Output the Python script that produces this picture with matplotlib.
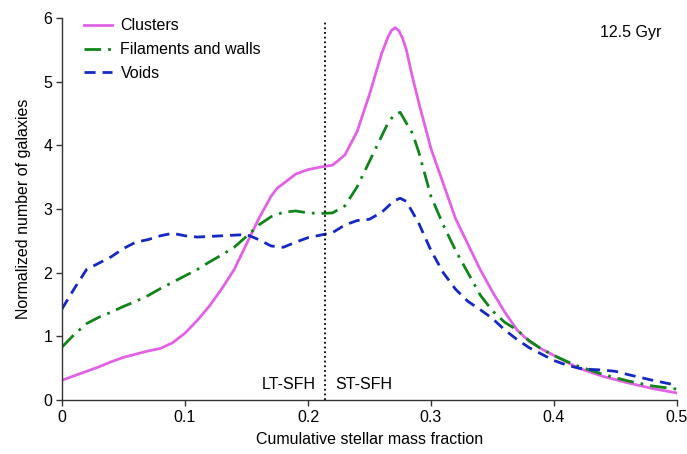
import matplotlib
matplotlib.use('Agg')
import matplotlib.pyplot as plt

# ===== data =====
x_clusters = [0, 0.01, 0.02, 0.03, 0.04, 0.05, 0.06, 0.07, 0.08, 0.09, 0.1, 0.11, 0.12, 0.13,
              0.14, 0.15, 0.16, 0.17, 0.175, 0.18, 0.19, 0.2, 0.21, 0.22, 0.23, 0.24, 0.25, 0.26,
              0.265, 0.268, 0.271, 0.274, 0.277, 0.28, 0.285, 0.29, 0.3, 0.31, 0.32, 0.33, 0.34,
              0.35, 0.36, 0.37, 0.38, 0.39, 0.4, 0.42, 0.44, 0.46, 0.48, 0.5]
y_clusters = [0.31, 0.38, 0.45, 0.52, 0.6, 0.67, 0.72, 0.77, 0.81, 0.9, 1.05, 1.25, 1.48, 1.75,
              2.05, 2.45, 2.85, 3.2, 3.33, 3.4, 3.55, 3.62, 3.66, 3.69, 3.85, 4.22, 4.8, 5.45,
              5.7, 5.81, 5.85, 5.8, 5.68, 5.5, 5.07, 4.68, 3.95, 3.4, 2.85, 2.45, 2.05,
              1.7, 1.38, 1.1, 0.92, 0.8, 0.7, 0.5, 0.37, 0.27, 0.18, 0.11]

x_filaments = [0, 0.01, 0.02, 0.03, 0.04, 0.05, 0.06, 0.07, 0.08, 0.09, 0.1, 0.11, 0.12, 0.13,
               0.14, 0.15, 0.16, 0.17, 0.18, 0.19, 0.2, 0.21, 0.22, 0.23, 0.24, 0.25, 0.26,
               0.265, 0.27, 0.275, 0.28, 0.285, 0.29, 0.3, 0.31, 0.32, 0.33, 0.34, 0.35, 0.36,
               0.37, 0.38, 0.39, 0.4, 0.41, 0.42, 0.44, 0.46, 0.48, 0.5]
y_filaments = [0.83, 1.03, 1.2, 1.3, 1.38, 1.47, 1.55, 1.64, 1.75, 1.85, 1.95, 2.05, 2.17, 2.28,
               2.4, 2.57, 2.75, 2.88, 2.95, 2.97, 2.94, 2.93, 2.94, 3.05, 3.35, 3.75, 4.15,
               4.35, 4.48, 4.52, 4.35, 4.19, 3.9, 3.2, 2.75, 2.35, 2.0, 1.65, 1.4, 1.22,
               1.1, 0.93, 0.8, 0.7, 0.61, 0.53, 0.4, 0.3, 0.22, 0.17]

x_voids = [0, 0.01, 0.02, 0.03, 0.04, 0.05, 0.06, 0.07, 0.08, 0.09, 0.1, 0.11, 0.12, 0.13,
           0.14, 0.15, 0.16, 0.17, 0.18, 0.19, 0.2, 0.21, 0.22, 0.23, 0.24, 0.25, 0.26, 0.27,
           0.275, 0.28, 0.29, 0.3, 0.31, 0.32, 0.33, 0.34, 0.35, 0.36, 0.37, 0.38, 0.39,
           0.4, 0.41, 0.42, 0.43, 0.44, 0.45, 0.46, 0.48, 0.5]
y_voids = [1.43, 1.75, 2.05, 2.15, 2.25, 2.38, 2.48, 2.52, 2.58, 2.62, 2.58, 2.56, 2.57, 2.58,
           2.59, 2.6, 2.52, 2.42, 2.4, 2.48, 2.55, 2.59, 2.63, 2.75, 2.82, 2.84, 2.95, 3.13,
           3.17, 3.12, 2.78, 2.35, 2.0, 1.74, 1.55, 1.42, 1.28, 1.1, 0.95, 0.82, 0.72,
           0.62, 0.55, 0.5, 0.48, 0.47, 0.45, 0.4, 0.31, 0.23]

x_ticks = [0, 0.1, 0.2, 0.3, 0.4, 0.5]
x_ticklabels = ['0', '0.1', '0.2', '0.3', '0.4', '0.5']
y_ticks = [0, 1, 2, 3, 4, 5, 6]
split_x = 0.214

plt.rcParams['font.family'] = ['Liberation Sans', 'DejaVu Sans']
plt.rcParams['font.size'] = 11.5

fig = plt.figure(figsize=(6.87, 4.54), dpi=100)
ax = fig.add_axes([0.0902, 0.119, 0.8952, 0.841])

ax.plot(x_clusters, y_clusters, color='#e262e6', lw=2.0, solid_joinstyle='round',
        label='Clusters')
ax.plot(x_filaments, y_filaments, color='#11841a', lw=2.0, dashes=(6, 2.5, 1, 2.5),
        label='Filaments and walls')
ax.plot(x_voids, y_voids, color='#1528c4', lw=2.0, dashes=(4, 2.5),
        label='Voids')
ax.plot([split_x, split_x], [0, 5.97], color='black', lw=1.3, ls=(0, (1, 1.6)))

ax.text(split_x - 0.008, 0.12, 'LT-SFH', ha='right', va='bottom')
ax.text(split_x + 0.008, 0.12, 'ST-SFH', ha='left', va='bottom')
ax.text(0.487, 5.78, '12.5 Gyr', ha='right', va='center')

ax.set_xlim(0, 0.5)
ax.set_ylim(0, 6)
ax.set_xticks(x_ticks)
ax.set_xticklabels(x_ticklabels)
ax.set_yticks(y_ticks)
ax.set_xlabel('Cumulative stellar mass fraction', labelpad=5)
ax.set_ylabel('Normalized number of galaxies', labelpad=9)

for side in ['top', 'right']:
    ax.spines[side].set_visible(False)
for side in ['left', 'bottom']:
    ax.spines[side].set_color('#333333')
    ax.spines[side].set_linewidth(1.0)
ax.tick_params(direction='out', length=4, width=1, color='#333333', pad=3)

ax.legend(loc='upper left', bbox_to_anchor=(0.012, 1.037), frameon=False,
          handlelength=1.8, handletextpad=0.5, labelspacing=0.55)

fig.savefig('out.png', dpi=100)
